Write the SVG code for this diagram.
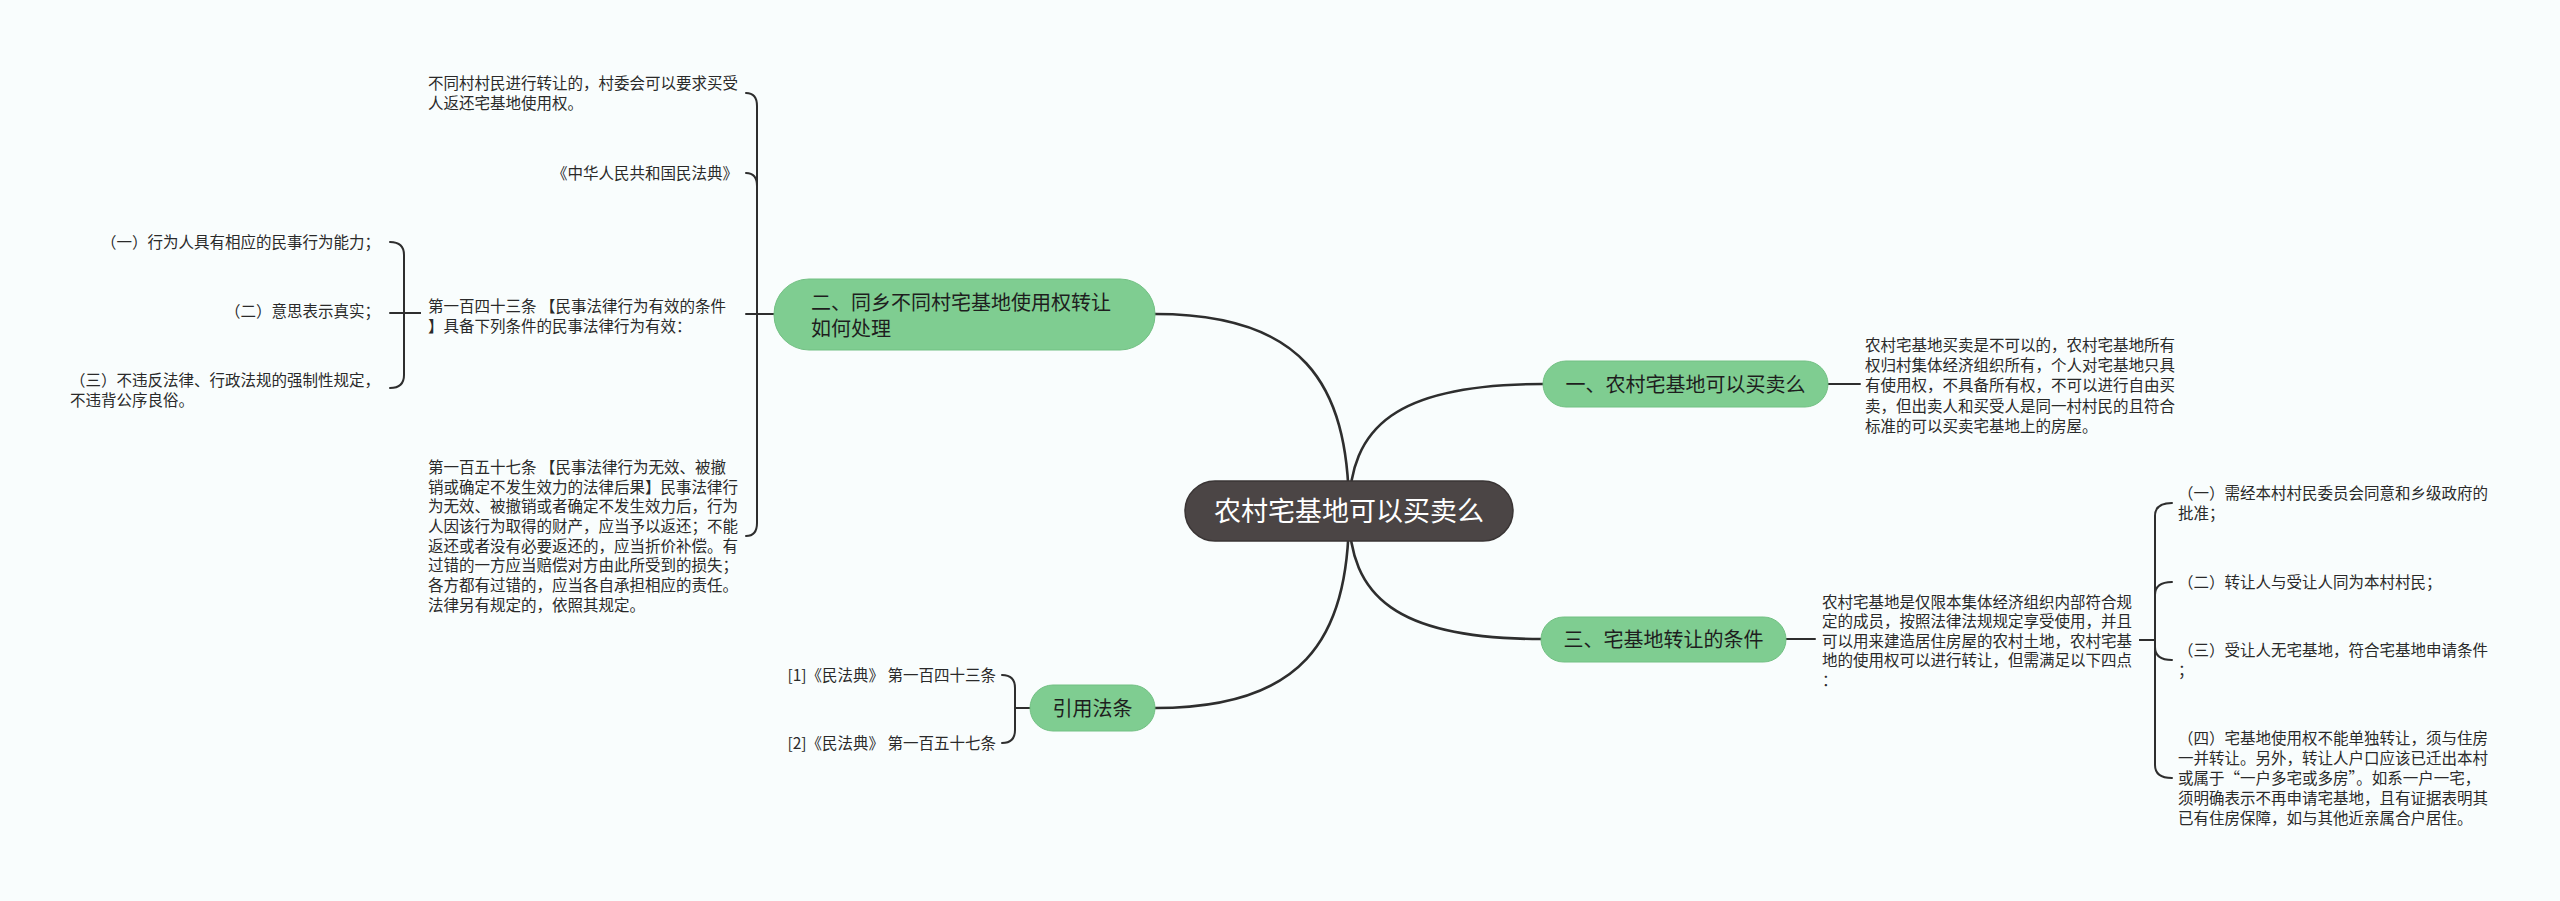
<svg xmlns="http://www.w3.org/2000/svg" width="2560" height="901" viewBox="0 0 2560 901">
<style>
.bg{fill:#f9fdfd}
.t{font-family:"Noto Sans CJK SC","Noto Sans",sans-serif;font-size:15.5px;fill:#2a2a2a}
.nt{font-family:"Noto Sans CJK SC","Noto Sans",sans-serif;font-size:20px;fill:#1e1e1e}
.rt{font-family:"Noto Sans CJK SC","Noto Sans",sans-serif;font-size:27px;fill:#ffffff}
.g{fill:#7fcd91;stroke:#72c083;stroke-width:1}
.root{fill:#4b4545;stroke:#3a3535;stroke-width:1.5}
.c{fill:none;stroke:#2e2e2e;stroke-width:2;stroke-linecap:round}
.cm{fill:none;stroke:#2e2e2e;stroke-width:2.6;stroke-linecap:round}
</style>
<rect class="bg" x="0" y="0" width="2560" height="901"/>
<g id="connectors">
<path class="cm" d="M 1349 512 C 1349 426, 1397 384, 1543 384"/>
<path class="cm" d="M 1349 512 C 1349 380, 1300 314, 1155 314"/>
<path class="cm" d="M 1349 512 C 1349 597, 1397 639, 1541 639"/>
<path class="cm" d="M 1349 512 C 1349 643, 1300 708, 1155 708"/>
<path class="c" d="M 1828 384 H 1860"/>
<path class="c" d="M 1786 639 H 1815"/>
<path class="c" d="M 746 93 Q 757 93 757 106 L 757 314 H 774"/>
<path class="c" d="M 746 173 Q 757 173 757 186 L 757 314 H 774"/>
<path class="c" d="M 746 314 H 774"/>
<path class="c" d="M 746 536 Q 757 536 757 523 L 757 314 H 774"/>
<path class="c" d="M 390 242 Q 404 242 404 255 L 404 313 H 420"/>
<path class="c" d="M 390 313 H 420"/>
<path class="c" d="M 390 388 Q 404 388 404 375 L 404 313 H 420"/>
<path class="c" d="M 1002 675 Q 1015 675 1015 688 L 1015 708 H 1030"/>
<path class="c" d="M 1002 743 Q 1015 743 1015 730 L 1015 708 H 1030"/>
<path class="c" d="M 2140 640 H 2155 V 516 Q 2155 503 2172 503"/>
<path class="c" d="M 2140 640 H 2155 V 595 Q 2155 582 2172 582"/>
<path class="c" d="M 2140 640 H 2155 V 647 Q 2155 660 2172 660"/>
<path class="c" d="M 2140 640 H 2155 V 765 Q 2155 778 2172 778"/>
</g>
<g id="root">
<rect class="root" x="1185" y="481" width="328" height="60" rx="30"/>
<text class="rt" x="1349" y="521" text-anchor="middle">农村宅基地可以买卖么</text>
</g>
<g id="n1">
<rect class="g" x="1543" y="361" width="285" height="46" rx="23"/>
<text class="nt" x="1685.5" y="391.6" text-anchor="middle">一、农村宅基地可以买卖么</text>
</g>
<g id="n1-text">
<text class="t" x="1865"><tspan x="1865" y="351">农村宅基地买卖是不可以的，农村宅基地所有</tspan><tspan x="1865" y="371.2">权归村集体经济组织所有，个人对宅基地只具</tspan><tspan x="1865" y="391.4">有使用权，不具备所有权，不可以进行自由买</tspan><tspan x="1865" y="411.6">卖，但出卖人和买受人是同一村村民的且符合</tspan><tspan x="1865" y="431.8">标准的可以买卖宅基地上的房屋。</tspan></text>
</g>
<g id="n2">
<rect class="g" x="774" y="279" width="381" height="71" rx="35"/>
<text class="nt"><tspan x="811" y="309.6">二、同乡不同村宅基地使用权转让</tspan><tspan x="811" y="335.6">如何处理</tspan></text>
</g>
<g id="n2-c1">
<text class="t"><tspan x="428" y="88.9">不同村村民进行转让的，村委会可以要求买受</tspan><tspan x="428" y="108.9">人返还宅基地使用权。</tspan></text>
</g>
<g id="n2-c2">
<text class="t" x="738" y="178.9" text-anchor="end">《中华人民共和国民法典》</text>
</g>
<g id="n2-c3">
<text class="t"><tspan x="428" y="311.9">第一百四十三条 【民事法律行为有效的条件</tspan><tspan x="428" y="331.9">】具备下列条件的民事法律行为有效：</tspan></text>
</g>
<g id="n2-c3-1">
<text class="t" x="380" y="247.9" text-anchor="end">（一）行为人具有相应的民事行为能力；</text>
</g>
<g id="n2-c3-2">
<text class="t" x="380" y="316.9" text-anchor="end">（二）意思表示真实；</text>
</g>
<g id="n2-c3-3">
<text class="t"><tspan x="70" y="385.9">（三）不违反法律、行政法规的强制性规定，</tspan><tspan x="70" y="405.9">不违背公序良俗。</tspan></text>
</g>
<g id="n2-c4">
<text class="t"><tspan x="428" y="472.9">第一百五十七条 【民事法律行为无效、被撤</tspan><tspan x="428" y="492.6">销或确定不发生效力的法律后果】民事法律行</tspan><tspan x="428" y="512.3">为无效、被撤销或者确定不发生效力后，行为</tspan><tspan x="428" y="532">人因该行为取得的财产，应当予以返还；不能</tspan><tspan x="428" y="551.7">返还或者没有必要返还的，应当折价补偿。有</tspan><tspan x="428" y="571.4">过错的一方应当赔偿对方由此所受到的损失；</tspan><tspan x="428" y="591.1">各方都有过错的，应当各自承担相应的责任。</tspan><tspan x="428" y="610.8">法律另有规定的，依照其规定。</tspan></text>
</g>
<g id="n3">
<rect class="g" x="1541" y="617" width="245" height="45" rx="22.5"/>
<text class="nt" x="1663.5" y="647.1" text-anchor="middle">三、宅基地转让的条件</text>
</g>
<g id="n3-text">
<text class="t"><tspan x="1822" y="607.9">农村宅基地是仅限本集体经济组织内部符合规</tspan><tspan x="1822" y="627.4">定的成员，按照法律法规规定享受使用，并且</tspan><tspan x="1822" y="646.9">可以用来建造居住房屋的农村土地，农村宅基</tspan><tspan x="1822" y="666.4">地的使用权可以进行转让，但需满足以下四点</tspan><tspan x="1822" y="685.9">：</tspan></text>
</g>
<g id="n3-c1">
<text class="t"><tspan x="2178" y="498.9">（一）需经本村村民委员会同意和乡级政府的</tspan><tspan x="2178" y="518.9">批准；</tspan></text>
</g>
<g id="n3-c2">
<text class="t" x="2178" y="587.9">（二）转让人与受让人同为本村村民；</text>
</g>
<g id="n3-c3">
<text class="t"><tspan x="2178" y="655.9">（三）受让人无宅基地，符合宅基地申请条件</tspan><tspan x="2178" y="675.9">；</tspan></text>
</g>
<g id="n3-c4">
<text class="t"><tspan x="2178" y="743.9">（四）宅基地使用权不能单独转让，须与住房</tspan><tspan x="2178" y="763.9">一并转让。另外，转让人户口应该已迁出本村</tspan><tspan x="2178" y="783.9">或属于“一户多宅或多房”。如系一户一宅，</tspan><tspan x="2178" y="803.9">须明确表示不再申请宅基地，且有证据表明其</tspan><tspan x="2178" y="823.9">已有住房保障，如与其他近亲属合户居住。</tspan></text>
</g>
<g id="n4">
<rect class="g" x="1030" y="685" width="125" height="46" rx="23"/>
<text class="nt" x="1092.5" y="715.6" text-anchor="middle">引用法条</text>
</g>
<g id="n4-c1">
<text class="t" x="996" y="680.9" text-anchor="end">[1]《民法典》 第一百四十三条</text>
</g>
<g id="n4-c2">
<text class="t" x="996" y="748.9" text-anchor="end">[2]《民法典》 第一百五十七条</text>
</g>
</svg>
